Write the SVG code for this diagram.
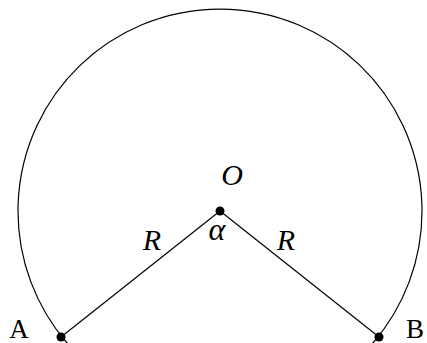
<svg xmlns="http://www.w3.org/2000/svg" width="427" height="343" viewBox="0 0 427 343">
<style>
.ln{fill:none;stroke:#000;stroke-width:1.2}
.dot{fill:#000}
.it{font-family:"Liberation Serif",serif;font-style:italic;font-size:30px;fill:#000}
.up{font-family:"Liberation Serif",serif;font-size:27px;fill:#000}
</style>
<rect width="427" height="343" fill="#fff"/>
<g id="connectors">
<path class="ln" d="M68.8,345 A202,202 0 1 1 371.2,345"/>
<line class="ln" x1="220" y1="211" x2="61" y2="337"/>
<line class="ln" x1="220" y1="211" x2="379" y2="337"/>
</g>
<g id="O"><circle class="dot" cx="220" cy="211" r="4.5"/><text class="it" x="232" y="185" text-anchor="middle">O</text><text class="it" x="217" y="240" text-anchor="middle" style="font-size:32px">α</text></g>
<g id="A"><circle class="dot" cx="61" cy="337" r="4.5"/><text class="up" x="19" y="338" text-anchor="middle">A</text></g>
<g id="B"><circle class="dot" cx="379" cy="337" r="4.5"/><text class="up" x="415" y="338" text-anchor="middle">B</text></g>
<g id="labels"><text class="it" x="152" y="250" text-anchor="middle">R</text><text class="it" x="286" y="250" text-anchor="middle">R</text></g>
</svg>
